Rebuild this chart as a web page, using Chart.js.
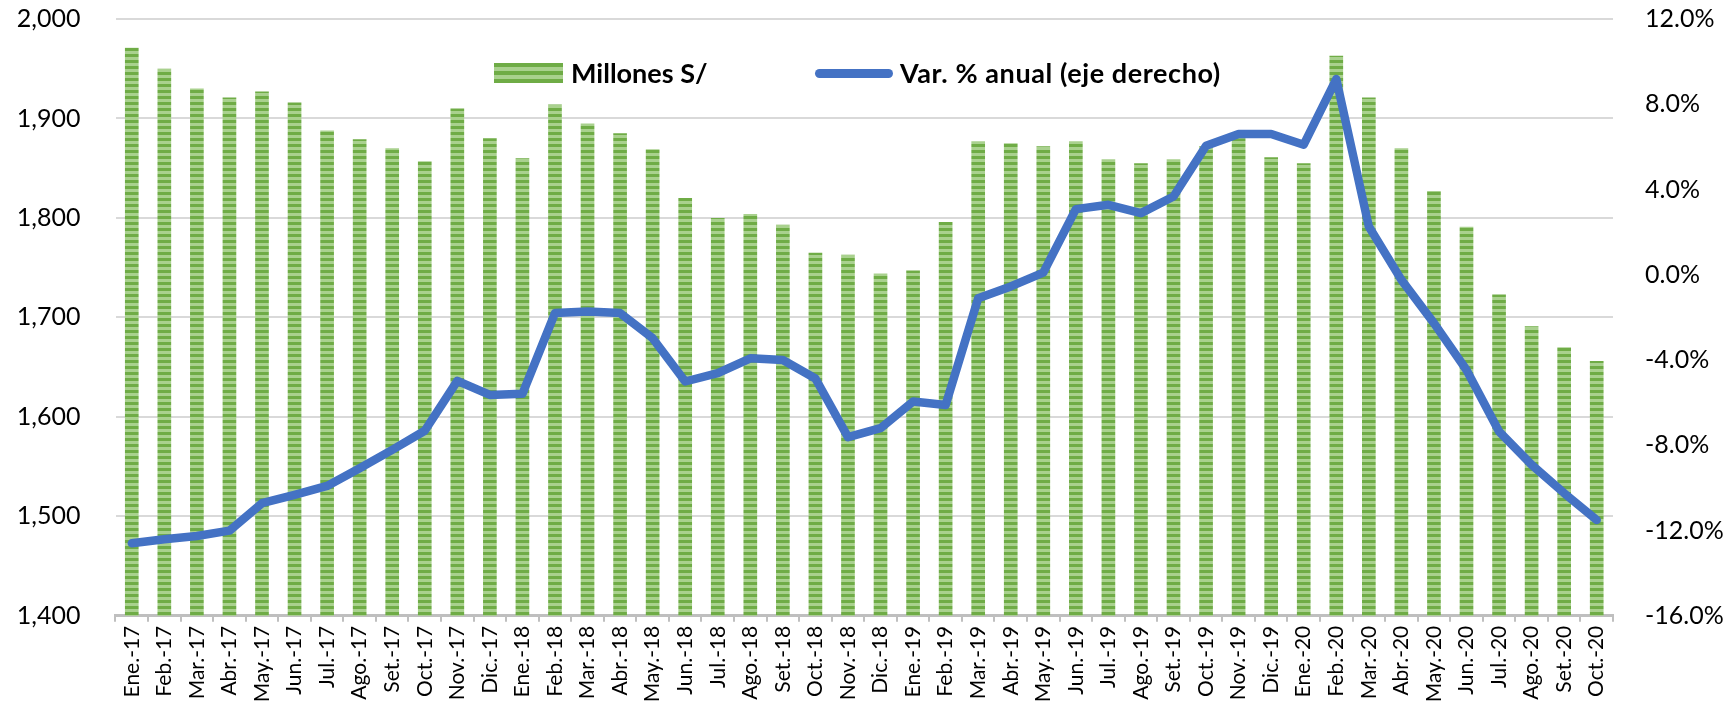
<!DOCTYPE html>
<html>
<head>
<meta charset="utf-8">
<script src="https://cdn.jsdelivr.net/npm/chart.js@4.4.1/dist/chart.umd.min.js"></script>
<style>
  html, body { margin: 0; padding: 0; background: #fff; }
  #wrap { position: relative; width: 1732px; height: 701px; }
  #legend { position: absolute; left: 0; top: 0; width: 1732px; height: 701px; pointer-events: none;
            font-family: 'Lato', sans-serif; font-weight: 700; font-size: 27px; color: #000; }
  .lg-item { position: absolute; top: 57px; height: 32px; line-height: 32px; white-space: nowrap; }
  .patch-bar { position: absolute; left: 494px; top: 63px; width: 69px; height: 20px;
    background: repeating-linear-gradient(to bottom, #6FAC46 0px, #6FAC46 4px, #A9D18E 4px, #A9D18E 8px); }
  .patch-line { position: absolute; left: 815px; top: 68.5px; width: 78px; height: 9px; border-radius: 5px; background: #4472C4; }
</style>
</head>
<body>
<div id="wrap">
  <canvas id="c" width="1732" height="701"></canvas>
  <div id="legend">
    <div class="patch-bar"></div>
    <div class="lg-item" style="left:571px">Millones S/</div>
    <div class="patch-line"></div>
    <div class="lg-item" style="left:900px; letter-spacing:0.6px">Var. % anual (eje derecho)</div>
  </div>
</div>
<script>
// ---- Data ----
const categories = [
  'Ene.-17','Feb.-17','Mar.-17','Abr.-17','May.-17','Jun.-17','Jul.-17','Ago.-17','Set.-17','Oct.-17','Nov.-17','Dic.-17',
  'Ene.-18','Feb.-18','Mar.-18','Abr.-18','May.-18','Jun.-18','Jul.-18','Ago.-18','Set.-18','Oct.-18','Nov.-18','Dic.-18',
  'Ene.-19','Feb.-19','Mar.-19','Abr.-19','May.-19','Jun.-19','Jul.-19','Ago.-19','Set.-19','Oct.-19','Nov.-19','Dic.-19',
  'Ene.-20','Feb.-20','Mar.-20','Abr.-20','May.-20','Jun.-20','Jul.-20','Ago.-20','Set.-20','Oct.-20'
];
const millones = [
  1971,1950,1930,1921,1927,1916,1888,1879,1870,1857,1910,1880,
  1860,1914,1895,1885,1869,1820,1800,1804,1793,1765,1763,1744,
  1747,1796,1877,1875,1872,1877,1859,1855,1859,1872,1880,1861,
  1855,1963,1921,1870,1827,1791,1723,1691,1670,1656
];
const varAnual = [
  -12.60,-12.41,-12.26,-12.01,-10.72,-10.33,-9.91,-9.08,-8.22,-7.32,-4.98,-5.64,
  -5.59,-1.80,-1.73,-1.80,-2.98,-5.01,-4.62,-3.92,-4.00,-4.87,-7.62,-7.20,
  -5.95,-6.11,-1.10,-0.55,0.10,3.08,3.28,2.89,3.67,6.05,6.60,6.60,
  6.10,9.18,2.26,-0.24,-2.27,-4.47,-7.36,-8.92,-10.25,-11.51
];
const leftTicks = { min: 1400, max: 2000, step: 100 };
const rightTicks = { min: -16, max: 12, step: 4 };
const seriesNames = ['Millones S/', 'Var. % anual (eje derecho)'];

// ---- Pattern for bars ----
function makePattern() {
  const c = document.createElement('canvas');
  c.width = 4; c.height = 6;
  const x = c.getContext('2d');
  x.fillStyle = '#A9D18E'; x.fillRect(0, 0, 4, 6);
  x.fillStyle = '#6FAC46'; x.fillRect(0, 0, 4, 3);
  return x.createPattern(c, 'repeat');
}

const ctx = document.getElementById('c').getContext('2d');
new Chart(ctx, {
  data: {
    labels: categories,
    datasets: [
      {
        type: 'line', label: seriesNames[1], data: varAnual, yAxisID: 'y1', order: 0,
        borderColor: '#4472C4', borderWidth: 8.5, pointRadius: 0, tension: 0,
        borderJoinStyle: 'round', borderCapStyle: 'round', fill: false
      },
      {
        type: 'bar', label: seriesNames[0], data: millones, yAxisID: 'y', order: 1,
        backgroundColor: makePattern(), borderWidth: 0,
        barPercentage: 0.42, categoryPercentage: 1.0
      }
    ]
  },
  options: {
    responsive: false,
    animation: false,
    devicePixelRatio: 1,
    layout: { padding: { top: 19, left: 0, right: 0, bottom: 0 } },
    plugins: { legend: { display: false }, tooltip: { enabled: false } },
    scales: {
      x: {
        type: 'category',
        offset: true,
        grid: { offset: true, drawOnChartArea: false, drawTicks: true, tickLength: 6, color: '#BFBFBF', lineWidth: 2 },
        border: { display: true, color: '#BFBFBF', width: 3 },
        ticks: { autoSkip: false, maxRotation: 90, minRotation: 90, padding: 4, color: '#000',
                 font: { family: 'Lato', size: 21 } },
        afterFit: s => { s.height = 85.3; s.paddingTop = 0; s.paddingBottom = 0; }
      },
      y: {
        position: 'left',
        min: leftTicks.min, max: leftTicks.max,
        ticks: { stepSize: leftTicks.step, padding: 35, color: '#000', font: { family: 'Lato', size: 25 },
                 callback: v => v.toLocaleString('en-US') },
        grid: { color: '#D9D9D9', lineWidth: 2, drawTicks: false },
        border: { display: false },
        afterFit: s => { s.width = 115.5; s.paddingTop = 0; s.paddingBottom = 0; }
      },
      y1: {
        position: 'right',
        min: rightTicks.min, max: rightTicks.max,
        ticks: { stepSize: rightTicks.step, padding: 32, color: '#000', font: { family: 'Lato', size: 25 },
                 callback: v => v.toFixed(1) + '%' },
        grid: { drawOnChartArea: false, drawTicks: false },
        border: { display: false },
        afterFit: s => { s.width = 119; s.paddingTop = 0; s.paddingBottom = 0; }
      }
    }
  }
});
</script>
</body>
</html>
